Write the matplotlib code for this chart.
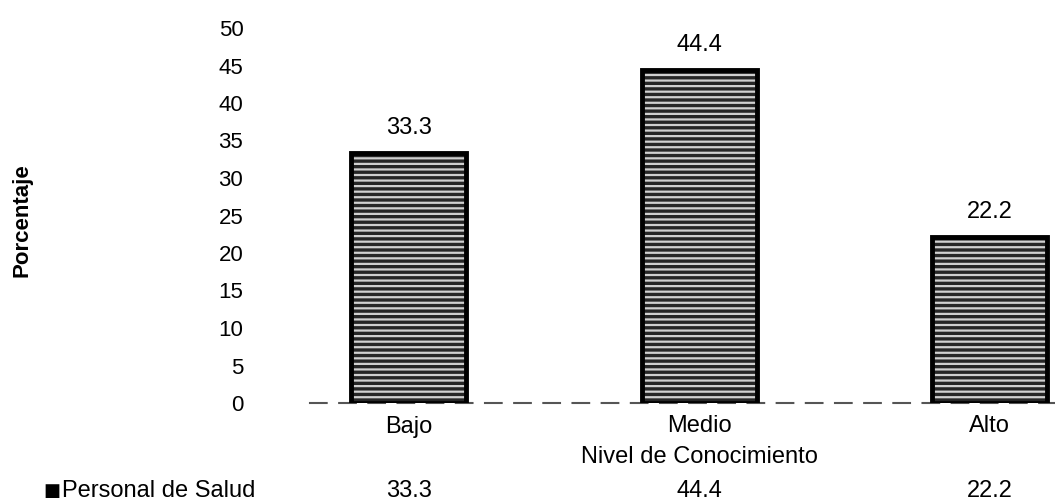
import matplotlib
matplotlib.use("Agg")
import matplotlib.pyplot as plt

plt.rcParams['font.family'] = ['Liberation Sans', 'DejaVu Sans']

niveles = ["Bajo", "Medio", "Alto"]
porcentaje = [33.3, 44.4, 22.2]
serie = "Personal de Salud"
y_ticks = [0, 5, 10, 15, 20, 25, 30, 35, 40, 45, 50]

FS = 17
FS_TICK = 16

fig = plt.figure(figsize=(10.55, 5.0), dpi=100)
# axes runs past the right edge, the last category band is cut off
ax = fig.add_axes([310 / 1055, 97 / 500, 825 / 1055, 375 / 500])

x = list(range(len(niveles)))

# striped fill, then a heavy black outline on top
plt.rcParams['hatch.linewidth'] = 1.6
ax.bar(x, porcentaje, width=0.396, color='#262626', edgecolor='#d0d0d0',
       hatch='---', linewidth=0, zorder=2)
ax.bar(x, porcentaje, width=0.396, fill=False, edgecolor='black',
       linewidth=3.5, zorder=3)

for xi, v in zip(x, porcentaje):
    ax.annotate(f"{v:.1f}", (xi, v), xytext=(0, 18), textcoords='offset points',
                ha='center', va='center', fontsize=FS)

ax.set_xlim(-0.34, 2.5)
ax.set_ylim(0, 50)
ax.set_yticks(y_ticks)
ax.set_yticklabels([str(t) for t in y_ticks], fontsize=FS_TICK)
ax.tick_params(axis='y', length=0, pad=48)
ax.set_xticks(x)
ax.set_xticklabels(niveles, fontsize=FS)
ax.tick_params(axis='x', length=0, pad=9)

for side in ['left', 'right', 'top']:
    ax.spines[side].set_visible(False)
ax.spines['bottom'].set_color('#555555')
ax.spines['bottom'].set_linewidth(1.5)
ax.spines['bottom'].set_linestyle((0, (8, 6)))

ax.set_ylabel("Porcentaje", fontsize=FS_TICK, fontweight='bold', labelpad=0)
ax.yaxis.set_label_coords(-(310 - 33) / 825, (403 - 220) / 375)

# axis title and data table row under the categories
trans = ax.get_xaxis_transform()
ax.text(1, -(457 - 403) / 375, "Nivel de Conocimiento", transform=trans,
        ha='center', va='center', fontsize=FS)
for xi, v in zip(x, porcentaje):
    ax.text(xi, -(491 - 403) / 375, f"{v:.1f}", transform=trans,
            ha='center', va='center', fontsize=FS)

fig.text(43 / 1055, 1 - 491 / 500, "\u25a0", ha='left', va='center',
         fontsize=13, family=['DejaVu Sans'])
fig.text(62 / 1055, 1 - 491 / 500, serie, ha='left', va='center', fontsize=FS)

fig.savefig("out.png", dpi=100)
